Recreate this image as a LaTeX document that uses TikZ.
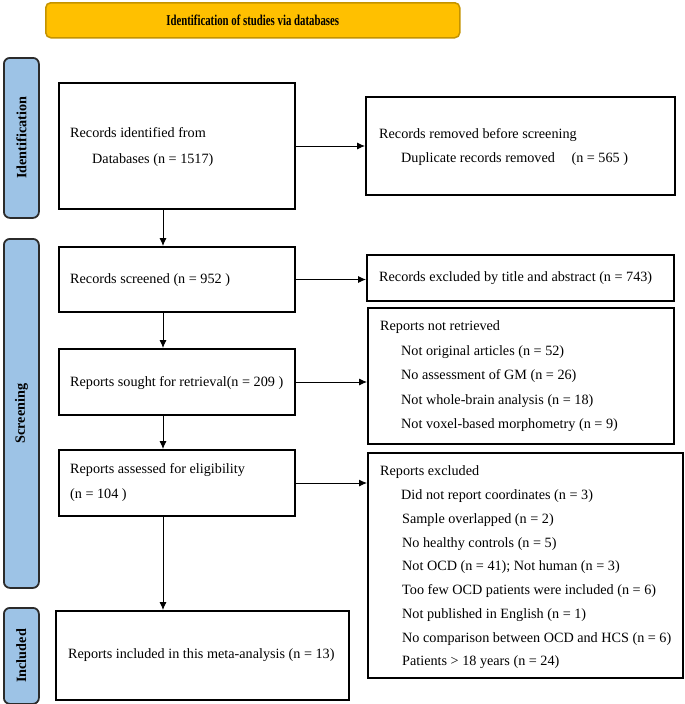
\documentclass[tikz,border=0pt]{standalone}
\usepackage{fontspec}
\setmainfont{Liberation Serif}
\usetikzlibrary{arrows.meta}
\definecolor{amber}{HTML}{FFC000}
\definecolor{amberdk}{HTML}{C49300}
\definecolor{phase}{HTML}{9DC3E6}
\definecolor{phasedk}{HTML}{2B2B2B}
\begin{document}
\begin{tikzpicture}[x=1pt,y=-1pt,
  box/.style={draw=black, line width=2pt, inner sep=0pt, anchor=north west},
  txt/.style={anchor=west, inner sep=0pt, text height=10pt, text depth=3pt, font=\fontsize{14.2}{17}\selectfont},
  arr/.style={-{Latex[length=8pt,width=7pt]}, line width=0.9pt},
  phasebar/.style={draw=phasedk, fill=phase, line width=1.8pt, rounded corners=6pt, inner sep=0pt, anchor=north west, minimum width=35pt},
  phaselbl/.style={rotate=90, font=\bfseries\fontsize{14.2}{17}\selectfont, inner sep=0pt}
]
\useasboundingbox (0,0) rectangle (685,704);

% title banner
\node[draw=amberdk, fill=amber, line width=1.5pt, rounded corners=5pt, inner sep=0pt,
      minimum width=414pt, minimum height=35pt, anchor=north west] (title) at (45,2)
  {\scalebox{0.72}[1]{\bfseries\fontsize{15}{18}\selectfont Identification of studies via databases}};

% phase bars
\node[phasebar, minimum height=160pt] (pid) at (3,57) {};
\node[phasebar, minimum height=349pt] (psc) at (3,238) {};
\node[phasebar, minimum height=96pt] (pin) at (3,607) {};
\node[phaselbl] (lid) at (pid.center) {Identification};
\node[phaselbl] (lsc) at (psc.center) {Screening};
\node[phaselbl] (lin) at (pin.center) {Included};

% boxes
\node[box, minimum width=236pt, minimum height=126pt] (b1) at (58,82) {};
\node[box, minimum width=309pt, minimum height=98pt] (b2) at (365,96) {};
\node[box, minimum width=236pt, minimum height=65pt] (b3) at (58,246) {};
\node[box, minimum width=307pt, minimum height=46pt] (b4) at (366,254) {};
\node[box, minimum width=236pt, minimum height=66pt] (b5) at (58,348) {};
\node[box, minimum width=306pt, minimum height=136pt] (b6) at (367,307) {};
\node[box, minimum width=236pt, minimum height=66pt] (b7) at (58,449) {};
\node[box, minimum width=315pt, minimum height=225pt] (b8) at (367,452) {};
\node[box, minimum width=293pt, minimum height=89pt] (b9) at (55,610) {};

% texts
\node[txt] (t1a) at (70,134) {Records identified from};
\node[txt] (t1b) at (92,160) {Databases (n = 1517)};
\node[txt] (t2a) at (379,135) {Records removed before screening};
\node[txt] (t2b) at (401,159) {Duplicate records removed\hspace{13pt} (n = 565 )};
\node[txt] (t3) at (70,280) {Records screened (n = 952 )};
\node[txt] (t4) at (379,278) {Records excluded by title and abstract (n = 743)};
\node[txt] (t5) at (70,383) {Reports sought for retrieval(n = 209 )};
\node[txt] (t6a) at (380,327) {Reports not retrieved};
\node[txt] (t6b) at (401,351.5) {Not original articles (n = 52)};
\node[txt] (t6c) at (401,376) {No assessment of GM (n = 26)};
\node[txt] (t6d) at (401,400.5) {Not whole-brain analysis (n = 18)};
\node[txt] (t6e) at (401,425) {Not voxel-based morphometry (n = 9)};
\node[txt] (t7a) at (70,470) {Reports assessed for eligibility};
\node[txt] (t7b) at (70,495) {(n = 104 )};
\node[txt] (t8a) at (380,472) {Reports excluded};
\node[txt] (t8b) at (401,496) {Did not report coordinates (n = 3)};
\node[txt] (t8c) at (402,520) {Sample overlapped (n = 2)};
\node[txt] (t8d) at (402,543.5) {No healthy controls (n = 5)};
\node[txt] (t8e) at (402,567) {Not OCD (n = 41); Not human (n = 3)};
\node[txt] (t8f) at (402,591) {Too few OCD patients were included (n = 6)};
\node[txt] (t8g) at (402,615) {Not published in English (n = 1)};
\node[txt] (t8h) at (402,639) {No comparison between OCD and HCS (n = 6)};
\node[txt] (t8i) at (402,662) {Patients > 18 years (n = 24)};
\node[txt] (t9) at (68,655) {Reports included in this meta-analysis (n = 13)};

% connectors
\coordinate (ax) at (163,0);
\draw[arr] (b1.south -| ax) -- (b3.north -| ax);
\draw[arr] (b3.south -| ax) -- (b5.north -| ax);
\draw[arr] (b5.south -| ax) -- (b7.north -| ax);
\draw[arr] (b7.south -| ax) -- (b9.north -| ax);
\draw[arr] (b1.east) -- (b1.east -| b2.west);
\draw[arr] (b3.east) -- (b3.east -| b4.west);
\draw[arr] (b5.east) -- (b5.east -| b6.west);
\draw[arr] (b7.east) -- (b7.east -| b8.west);
\end{tikzpicture}
\end{document}
